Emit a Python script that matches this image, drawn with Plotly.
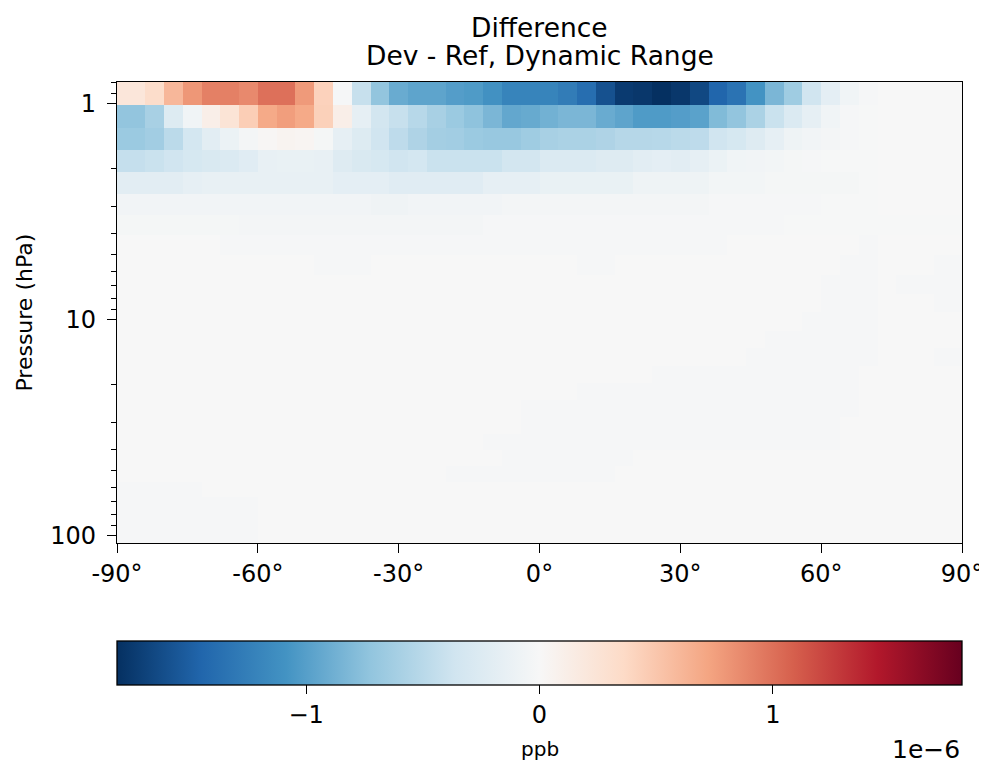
import plotly.graph_objects as go

# Latitude cell edges (degrees)
lat_edges = [-90, -84, -80, -76, -72, -68, -64, -60, -56, -52, -48, -44, -40, -36, -32,
             -28, -24, -20, -16, -12, -8, -4, 0, 4, 8, 12, 16, 20, 24, 28, 32, 36, 40,
             44, 48, 52, 56, 60, 64, 68, 72, 76, 80, 84, 90]

# Pressure level edges (hPa), top to bottom
p_edges = [0.7951, 1.0194, 1.3005, 1.6508, 2.0850, 2.6202, 3.2764, 4.0766, 5.0468,
           6.2168, 7.6198, 9.2929, 11.2769, 13.6434, 16.4571, 19.7916, 23.7304,
           28.3678, 33.8100, 40.1754, 47.6439, 56.3879, 66.6034, 78.5123, 92.3657,
           108.6630]

# Difference values, units of 1e-6 ppb, one list per pressure layer (top first)
r01 = [0.22, 0.33, 0.60, 0.80, 0.92, 0.92, 0.87, 1.00, 1.00, 0.78,
       0.42, -0.02, -0.42, -0.72, -0.91, -0.96, -0.96, -1.01, -1.03, -1.10,
       -1.21, -1.21, -1.21, -1.27, -1.38, -1.59, -1.74, -1.76, -1.81, -1.76,
       -1.65, -1.45, -1.34, -1.09, -0.83, -0.65, -0.36, -0.18, -0.07, -0.02,
       0, 0, 0, 0]
r02 = [-0.72, -0.60, -0.25, -0.07, 0.11, 0.25, 0.45, 0.69, 0.76, 0.69,
       0.43, 0.11, -0.16, -0.34, -0.42, -0.51, -0.60, -0.67, -0.74, -0.83,
       -0.94, -0.92, -0.87, -0.83, -0.83, -0.91, -0.96, -1.03, -1.03, -1.01,
       -0.98, -0.80, -0.72, -0.58, -0.40, -0.27, -0.16, -0.07, -0.02, -0.01,
       0, 0, 0, 0]
r03 = [-0.67, -0.63, -0.49, -0.33, -0.20, -0.11, -0.04, 0.02, 0.05, 0.04,
       -0.03, -0.16, -0.25, -0.36, -0.47, -0.56, -0.62, -0.63, -0.67, -0.69,
       -0.69, -0.65, -0.60, -0.58, -0.58, -0.56, -0.52, -0.52, -0.51, -0.49,
       -0.47, -0.36, -0.31, -0.24, -0.16, -0.09, -0.06, -0.04, -0.02, -0.01,
       0, 0, 0, 0]
r04 = [-0.43, -0.40, -0.36, -0.31, -0.29, -0.27, -0.22, -0.14, -0.13, -0.13,
       -0.14, -0.24, -0.29, -0.31, -0.36, -0.33, -0.40, -0.40, -0.40, -0.40,
       -0.34, -0.34, -0.27, -0.27, -0.27, -0.24, -0.24, -0.20, -0.18, -0.20,
       -0.16, -0.11, -0.07, -0.06, -0.05, -0.03, -0.02, -0.01, -0.01, -0.01,
       0, 0, 0, 0]
r05 = [-0.20, -0.20, -0.20, -0.16, -0.14, -0.14, -0.14, -0.14, -0.14, -0.14,
       -0.14, -0.18, -0.18, -0.18, -0.22, -0.22, -0.22, -0.22, -0.22, -0.16,
       -0.16, -0.16, -0.13, -0.13, -0.13, -0.13, -0.13, -0.09, -0.09, -0.09,
       -0.09, -0.05, -0.05, -0.05, -0.03, -0.03, -0.03, -0.03, -0.03, -0.01,
       0, 0, 0, 0]
r06 = [-0.06, -0.06, -0.06, -0.06, -0.06, -0.06, -0.06, -0.06, -0.06, -0.06,
       -0.06, -0.06, -0.06, -0.08, -0.08, -0.06, -0.06, -0.06, -0.06, -0.06,
       -0.04, -0.04, -0.04, -0.04, -0.04, -0.04, -0.04, -0.04, -0.04, -0.04,
       -0.04, -0.02, -0.02, -0.02, -0.02, -0.02, -0.02, -0.01, -0.01, -0.01,
       0, 0, 0, 0]
r07 = [-0.03, -0.03, -0.03, -0.03, -0.03, -0.03, -0.04, -0.04, -0.04, -0.04,
       -0.04, -0.04, -0.04, -0.04, -0.04, -0.04, -0.04, -0.04, -0.04, -0.02,
       -0.02, -0.02, -0.02, -0.02, -0.02, -0.02, -0.02, -0.02, -0.02, -0.02,
       -0.02, -0.02, -0.02, -0.02, -0.02, -0.01, -0.01, -0.01, -0.01, -0.01,
       -0.01, -0.01, -0.01, -0.01]
r08 = [0, 0, 0, 0, 0, -0.02, -0.02, -0.02, -0.02, -0.02,
       -0.02, -0.02, -0.02, -0.02, -0.02, -0.02, -0.02, -0.02, -0.02, -0.02,
       -0.02, -0.02, -0.02, -0.02, -0.02, -0.02, -0.02, -0.02, -0.02, -0.02,
       -0.02, -0.02, 0, 0, 0, 0, 0, 0, 0, -0.02,
       0, 0, 0, 0]
r09 = [0, 0, 0, 0, 0, 0, 0, 0, 0, 0,
       -0.02, -0.02, -0.02, 0, 0, 0, 0, 0, 0, 0,
       0, 0, 0, 0, -0.02, -0.02, 0, 0, 0, 0,
       0, 0, 0, 0, 0, 0, 0, 0, -0.02, -0.02,
       0, 0, 0, -0.02]
r10 = [0, 0, 0, 0, 0, 0, 0, 0, 0, 0,
       0, 0, 0, 0, 0, 0, 0, 0, 0, 0,
       0, 0, 0, 0, 0, 0, 0, 0, 0, 0,
       0, 0, 0, 0, 0, 0, 0, -0.02, -0.02, -0.02,
       0, -0.02, -0.02, -0.02]
r11 = [0, 0, 0, 0, 0, 0, 0, 0, 0, 0,
       0, 0, 0, 0, 0, 0, 0, 0, 0, 0,
       0, 0, 0, 0, 0, 0, 0, 0, 0, 0,
       0, 0, 0, 0, 0, 0, 0, -0.02, -0.02, -0.02,
       0, 0, 0, -0.02]
r12 = [0, 0, 0, 0, 0, 0, 0, 0, 0, 0,
       0, 0, 0, 0, 0, 0, 0, 0, 0, 0,
       0, 0, 0, 0, 0, 0, 0, 0, 0, 0,
       0, 0, 0, 0, 0, 0, -0.02, -0.02, -0.02, -0.02,
       0, 0, 0, 0]
r13 = [0, 0, 0, 0, 0, 0, 0, 0, 0, 0,
       0, 0, 0, 0, 0, 0, 0, 0, 0, 0,
       0, 0, 0, 0, 0, 0, 0, 0, 0, 0,
       0, 0, 0, 0, -0.02, -0.02, -0.02, -0.02, -0.02, -0.02,
       0, 0, 0, 0]
r14 = [0, 0, 0, 0, 0, 0, 0, 0, 0, 0,
       0, 0, 0, 0, 0, 0, 0, 0, 0, 0,
       0, 0, 0, 0, 0, 0, 0, 0, 0, 0,
       0, 0, 0, -0.02, -0.02, -0.02, -0.02, -0.02, -0.02, -0.02,
       0, 0, 0, -0.02]
r15 = [0, 0, 0, 0, 0, 0, 0, 0, 0, 0,
       0, 0, 0, 0, 0, 0, 0, 0, 0, 0,
       0, 0, 0, 0, 0, 0, 0, 0, -0.02, -0.02,
       -0.02, -0.02, -0.02, -0.02, -0.02, -0.02, -0.02, -0.02, -0.02, 0,
       0, 0, 0, 0]
r16 = [0, 0, 0, 0, 0, 0, 0, 0, 0, 0,
       0, 0, 0, 0, 0, 0, 0, 0, 0, 0,
       0, 0, 0, 0, -0.02, -0.02, -0.02, -0.02, -0.02, -0.02,
       -0.02, -0.02, -0.02, -0.02, -0.02, -0.02, -0.02, -0.02, -0.02, 0,
       0, 0, 0, 0]
r17 = [0, 0, 0, 0, 0, 0, 0, 0, 0, 0,
       0, 0, 0, 0, 0, 0, 0, 0, 0, 0,
       0, -0.02, -0.02, -0.02, -0.02, -0.02, -0.02, -0.02, -0.02, -0.02,
       -0.02, -0.02, -0.02, -0.02, -0.02, -0.02, -0.02, -0.02, -0.02, 0,
       0, 0, 0, 0]
r18 = [0, 0, 0, 0, 0, 0, 0, 0, 0, 0,
       0, 0, 0, 0, 0, 0, 0, 0, 0, 0,
       0, -0.02, -0.02, -0.02, -0.02, -0.02, -0.02, -0.02, -0.02, -0.02,
       -0.02, -0.02, -0.02, -0.02, -0.02, -0.02, -0.02, -0.02, 0, 0,
       0, 0, 0, 0]
r19 = [0, 0, 0, 0, 0, 0, 0, 0, 0, 0,
       0, 0, 0, 0, 0, 0, 0, 0, 0, -0.02,
       -0.02, -0.02, -0.02, -0.02, -0.02, -0.02, -0.02, -0.02, -0.02, -0.02,
       -0.02, -0.02, -0.02, -0.02, -0.02, -0.02, -0.02, -0.02, 0, 0,
       0, 0, 0, 0]
r20 = [0, 0, 0, 0, 0, 0, 0, 0, 0, 0,
       0, 0, 0, 0, 0, 0, 0, 0, 0, 0,
       -0.02, -0.02, -0.02, -0.02, -0.02, -0.02, -0.02, 0, 0, 0,
       0, 0, 0, 0, 0, 0, 0, 0, 0, 0,
       0, 0, 0, 0]
r21 = [0, 0, 0, 0, 0, 0, 0, 0, 0, 0,
       0, 0, 0, 0, 0, 0, 0, -0.02, -0.02, -0.02,
       -0.02, -0.02, -0.02, -0.02, -0.02, -0.02, 0, 0, 0, 0,
       0, 0, 0, 0, 0, 0, 0, 0, 0, 0,
       0, 0, 0, 0]
r22 = [-0.02, -0.02, -0.02, -0.02, 0, 0, 0, 0, 0, 0,
       0, 0, 0, 0, 0, 0, 0, 0, 0, 0,
       0, 0, 0, 0, 0, 0, 0, 0, 0, 0,
       0, 0, 0, 0, 0, 0, 0, 0, 0, 0,
       0, 0, 0, 0]
r23 = [-0.02, -0.02, -0.02, -0.02, -0.02, -0.02, -0.02, 0, 0, 0,
       0, 0, 0, 0, 0, 0, 0, 0, 0, 0,
       0, 0, 0, 0, 0, 0, 0, 0, 0, 0,
       0, 0, 0, 0, 0, 0, 0, 0, 0, 0,
       0, 0, 0, 0]
r24 = [-0.02, -0.02, -0.02, -0.02, -0.02, -0.02, -0.02, 0, 0, 0,
       0, 0, 0, 0, 0, 0, 0, 0, 0, 0,
       0, 0, 0, 0, 0, 0, 0, 0, 0, 0,
       0, 0, 0, 0, 0, 0, 0, 0, 0, 0,
       0, 0, 0, 0]
r25 = [-0.02, -0.02, -0.02, -0.02, -0.02, -0.02, -0.02, 0, 0, 0,
       0, 0, 0, 0, 0, 0, 0, 0, 0, 0,
       0, 0, 0, 0, 0, 0, 0, 0, 0, 0,
       0, 0, 0, 0, 0, 0, 0, 0, 0, 0,
       0, 0, 0, 0]

rows = [r01, r02, r03, r04, r05, r06, r07, r08, r09, r10, r11, r12, r13,
        r14, r15, r16, r17, r18, r19, r20, r21, r22, r23, r24, r25]
z = [[v * 1e-6 for v in row] for row in rows]

vmax = 1.81e-6

x_tickvals = [-90, -60, -30, 0, 30, 60, 90]
x_ticktext = ["-90°", "-60°", "-30°", "0°", "30°", "60°", "90°"]
y_tickvals = [1, 10, 100]
y_ticktext = ["1", "10", "100"]
y_minor = [0.8, 0.9, 2, 3, 4, 5, 6, 7, 8, 9, 20, 30, 40, 50, 60, 70, 80, 90]
cb_tickvals = [-1e-6, 0, 1e-6]
cb_ticktext = ["\u22121", "0", "1"]

rdbu_r = [
    [0.0, "#053061"], [0.1, "#2166ac"], [0.2, "#4393c3"], [0.3, "#92c5de"],
    [0.4, "#d1e5f0"], [0.5, "#f7f7f7"], [0.6, "#fddbc7"], [0.7, "#f4a582"],
    [0.8, "#d6604d"], [0.9, "#b2182b"], [1.0, "#67001f"],
]

FONT = "DejaVu Sans"
TICK = 24

fig = go.Figure(go.Heatmap(
    z=z, x=lat_edges, y=p_edges,
    colorscale=rdbu_r, zmin=-vmax, zmax=vmax,
    hoverinfo="skip",
    colorbar=dict(
        orientation="h", x=0.5, xanchor="center", y=-0.2126, yanchor="top",
        len=1, lenmode="fraction", thickness=44, thicknessmode="pixels",
        xpad=0, ypad=0, outlinewidth=1.3, outlinecolor="black",
        tickvals=cb_tickvals, ticktext=cb_ticktext,
        ticks="outside", ticklen=9, tickwidth=1.3, tickcolor="black",
        tickfont=dict(family=FONT, size=TICK, color="black"),
    ),
))

# The page body adds an 8 px offset; the layout below accounts for it.
fig.update_layout(
    width=987, height=765,
    margin=dict(l=109, r=33, t=74, b=230),
    paper_bgcolor="white", plot_bgcolor="white",
    font=dict(family=FONT, color="black"),
    showlegend=False,
)

fig.update_xaxes(
    range=[-90, 90], tickvals=x_tickvals, ticktext=x_ticktext,
    ticks="outside", ticklen=9, tickwidth=1.3, tickcolor="black",
    showline=True, linecolor="black", linewidth=1.3, mirror=True,
    showgrid=False, zeroline=False, automargin=False,
    tickfont=dict(family=FONT, size=TICK, color="black"),
)
fig.update_yaxes(
    type="log", range=[2.0361, -0.0996],
    tickvals=y_tickvals, ticktext=y_ticktext,
    ticks="outside", ticklen=9, tickwidth=1.3, tickcolor="black",
    ticklabelstandoff=6,
    minor=dict(tickvals=y_minor, ticks="outside", ticklen=5, tickwidth=1,
               tickcolor="black", showgrid=False),
    showline=True, linecolor="black", linewidth=1.3, mirror=True,
    showgrid=False, zeroline=False, automargin=False,
    tickfont=dict(family=FONT, size=TICK, color="black"),
)

annotations = [
    dict(text="Difference", x=0.5, y=1.118, xref="paper", yref="paper",
         xanchor="center", yanchor="middle", showarrow=False,
         font=dict(family=FONT, size=26.5, color="black")),
    dict(text="Dev - Ref, Dynamic Range", x=0.5, y=1.0566, xref="paper", yref="paper",
         xanchor="center", yanchor="middle", showarrow=False,
         font=dict(family=FONT, size=26.5, color="black")),
    dict(text="Pressure (hPa)", x=-0.110, y=0.5, xref="paper", yref="paper",
         xanchor="center", yanchor="middle", textangle=-90, showarrow=False,
         font=dict(family=FONT, size=22, color="black")),
    dict(text="ppb", x=0.5, y=(535 - 741) / 461, xref="paper", yref="paper",
         xanchor="center", yanchor="middle", showarrow=False,
         font=dict(family=FONT, size=20, color="black")),
    dict(text="1e\u22126", x=1.0, y=(535 - 741) / 461, xref="paper", yref="paper",
         xanchor="right", yanchor="middle", showarrow=False,
         font=dict(family=FONT, size=25, color="black")),
]
fig.update_layout(annotations=annotations)

fig.write_html("out.html")
